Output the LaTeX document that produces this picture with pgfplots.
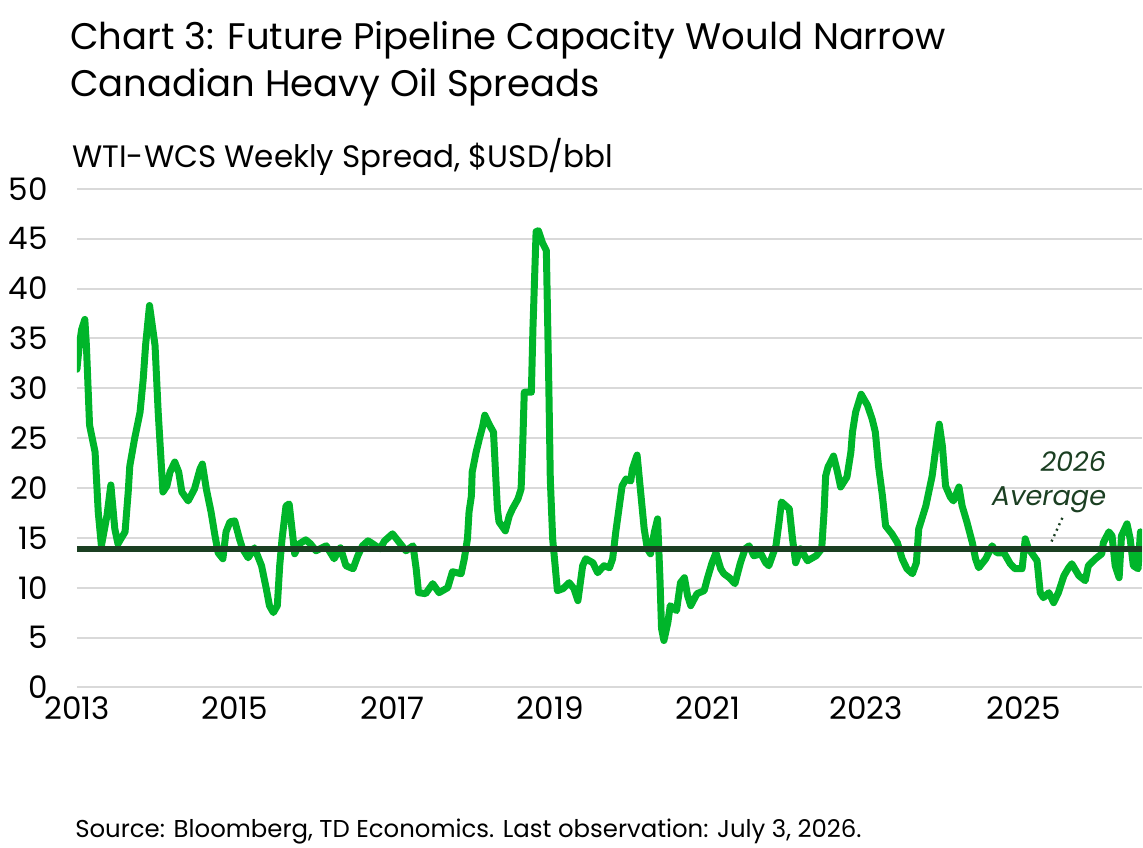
\documentclass[border=0pt]{standalone}
\usepackage{fontspec}
\setmainfont{Poppins}
\usepackage{pgfplots}
\pgfplotsset{compat=1.18}
\definecolor{tdgreen}{HTML}{00B52A}
\definecolor{avggreen}{HTML}{1B3F22}
\definecolor{gridgray}{HTML}{D9D9D9}
\begin{document}
\begin{tikzpicture}
\begin{axis}[
  name=ax, at={(0,0)}, anchor=south west,
  scale only axis, width=533bp, height=249.5bp,
  xmin=2013, xmax=2026.5, ymin=0, ymax=50,
  xtick={2013,2015,...,2025}, ytick={0,5,...,50},
  ymajorgrids, grid style={gridgray, line width=1bp},
  axis line style={draw=none}, major tick length=0pt,
  tick label style={font=\fontsize{15.5bp}{15.5bp}\selectfont, inner sep=0pt},
  /pgf/number format/assume math mode=true,
  xticklabel style={/pgf/number format/1000 sep=, anchor=north, yshift=-4.5bp},
  yticklabel style={anchor=east, xshift=-14.5bp},
]
\addplot[tdgreen, line width=3.5bp, line join=round, line cap=round] coordinates {
(2013.00,31.9)(2013.03,34.3)(2013.06,35.9)(2013.10,36.9)(2013.12,34.3)(2013.16,26.3)
(2013.23,23.6)(2013.27,17.6)(2013.31,14.2)(2013.38,17.2)(2013.43,20.3)(2013.48,15.9)
(2013.52,14.4)(2013.61,15.6)(2013.65,19.6)(2013.67,22.2)(2013.73,24.9)(2013.80,27.6)
(2013.84,30.9)(2013.87,34.3)(2013.92,38.3)(2013.99,34.3)(2014.03,27.6)(2014.09,19.6)
(2014.14,20.2)(2014.18,21.6)(2014.24,22.6)(2014.29,21.6)(2014.33,19.6)(2014.41,18.7)
(2014.49,19.9)(2014.56,21.9)(2014.59,22.4)(2014.64,19.9)(2014.70,17.6)(2014.75,15.2)
(2014.79,13.5)(2014.85,12.9)(2014.89,15.6)(2014.94,16.6)(2015.00,16.7)(2015.06,14.9)
(2015.10,13.9)(2015.17,13.0)(2015.25,14.0)(2015.34,12.2)(2015.40,9.9)(2015.44,8.2)
(2015.49,7.5)(2015.54,8.2)(2015.57,12.2)(2015.60,14.9)(2015.65,18.2)(2015.69,18.4)
(2015.74,14.9)(2015.76,13.4)(2015.82,14.4)(2015.90,14.8)(2015.96,14.4)(2016.03,13.7)
(2016.16,14.2)(2016.26,12.9)(2016.34,14.0)(2016.41,12.2)(2016.50,11.9)(2016.56,13.2)
(2016.62,14.2)(2016.69,14.7)(2016.75,14.4)(2016.84,13.9)(2016.90,14.7)(2017.00,15.4)
(2017.09,14.5)(2017.17,13.7)(2017.26,14.2)(2017.30,11.9)(2017.33,9.5)(2017.42,9.4)
(2017.51,10.4)(2017.59,9.5)(2017.70,10.0)(2017.76,11.6)(2017.87,11.4)(2017.91,12.9)
(2017.95,14.9)(2017.97,17.6)(2018.00,19.2)(2018.01,21.6)(2018.06,23.6)(2018.10,24.9)
(2018.14,26.1)(2018.17,27.3)(2018.23,26.3)(2018.28,25.6)(2018.31,20.9)(2018.33,17.9)
(2018.35,16.6)(2018.43,15.7)(2018.48,17.2)(2018.52,17.9)(2018.59,18.9)(2018.63,19.9)
(2018.65,24.2)(2018.67,29.6)(2018.76,29.6)(2018.78,36.0)(2018.82,45.7)(2018.85,45.8)
(2018.90,44.6)(2018.95,43.8)(2018.98,30.9)(2019.00,20.9)(2019.03,14.9)(2019.09,9.7)
(2019.16,9.9)(2019.24,10.5)(2019.30,9.9)(2019.35,8.7)(2019.41,12.2)(2019.45,12.9)
(2019.54,12.5)(2019.60,11.5)(2019.68,12.2)(2019.75,12.0)(2019.79,12.9)(2019.83,15.6)
(2019.87,17.9)(2019.91,20.2)(2019.96,20.9)(2020.02,20.7)(2020.04,21.9)(2020.10,23.3)
(2020.15,19.2)(2020.19,15.9)(2020.23,13.9)(2020.27,13.4)(2020.32,15.6)(2020.36,16.9)
(2020.39,10.9)(2020.41,5.9)(2020.44,4.7)(2020.49,6.5)(2020.52,8.2)(2020.60,7.7)
(2020.65,10.5)(2020.70,11.0)(2020.74,9.2)(2020.78,8.2)(2020.86,9.4)(2020.95,9.7)
(2020.99,10.9)(2021.05,12.5)(2021.10,13.5)(2021.16,11.9)(2021.20,11.4)(2021.27,11.0)
(2021.34,10.4)(2021.41,12.5)(2021.47,13.9)(2021.52,14.2)(2021.58,13.2)(2021.67,13.4)
(2021.73,12.5)(2021.77,12.2)(2021.86,14.2)(2021.90,16.6)(2021.93,18.6)(2022.03,17.9)
(2022.07,14.9)(2022.11,12.5)(2022.17,13.9)(2022.26,12.7)(2022.37,13.2)(2022.44,13.9)
(2022.47,17.6)(2022.49,21.2)(2022.52,22.1)(2022.59,23.2)(2022.64,21.6)(2022.68,20.1)
(2022.76,21.1)(2022.81,23.6)(2022.83,25.6)(2022.87,27.6)(2022.94,29.4)(2023.02,28.3)
(2023.08,26.9)(2023.12,25.6)(2023.16,22.2)(2023.21,19.2)(2023.25,16.2)(2023.33,15.4)
(2023.40,14.5)(2023.46,12.9)(2023.52,11.9)(2023.59,11.4)(2023.64,12.5)(2023.67,15.9)
(2023.76,18.2)(2023.84,21.2)(2023.89,24.2)(2023.93,26.4)(2023.97,24.2)(2024.01,20.2)
(2024.07,19.1)(2024.11,18.7)(2024.18,20.1)(2024.22,18.2)(2024.28,16.6)(2024.35,14.5)
(2024.39,12.9)(2024.43,12.0)(2024.52,12.9)(2024.60,14.2)(2024.66,13.5)(2024.75,13.5)
(2024.83,12.4)(2024.89,11.9)(2024.98,11.9)(2025.02,14.9)(2025.06,13.9)(2025.10,13.5)
(2025.17,12.7)(2025.21,9.5)(2025.25,9.0)(2025.32,9.5)(2025.38,8.5)(2025.44,9.5)
(2025.51,11.2)(2025.57,12.0)(2025.61,12.4)(2025.70,11.2)(2025.78,10.7)(2025.82,12.2)
(2025.91,12.9)(2025.99,13.4)(2026.01,14.5)(2026.08,15.6)(2026.12,15.2)(2026.16,12.2)
(2026.21,11.0)(2026.24,15.2)(2026.31,16.4)(2026.35,14.9)(2026.39,12.2)(2026.45,11.9)
(2026.48,15.6)
};
\addplot[avggreen, line width=3bp] coordinates {(2013,13.9)(2026.5,13.9)};
\draw[avggreen, line width=1.2bp, dash pattern=on 1bp off 2bp] (axis cs:2025.49,17.0) -- (axis cs:2025.34,14.4);
\node[anchor=east, inner sep=0pt, text=avggreen, font=\fontsize{13.6bp}{13.6bp}\selectfont\itshape] at (axis cs:2026.05,22.7) {2026};
\node[anchor=east, inner sep=0pt, text=avggreen, font=\fontsize{13.6bp}{13.6bp}\selectfont\itshape] at (axis cs:2026.05,18.8) {Average};
\end{axis}
\node[anchor=base west, inner sep=0pt, font=\fontsize{18.5bp}{18.5bp}\selectfont] at (-3.5bp,319bp) {Chart 3: Future Pipeline Capacity Would Narrow};
\node[anchor=base west, inner sep=0pt, font=\fontsize{18.5bp}{18.5bp}\selectfont] at (-3.5bp,295.5bp) {Canadian Heavy Oil Spreads};
\node[anchor=base west, inner sep=0pt, font=\fontsize{15.5bp}{15.5bp}\selectfont] at (-2.5bp,260bp) {WTI-WCS Weekly Spread, \$USD/bbl};
\node[anchor=base west, inner sep=0pt, font=\fontsize{12.2bp}{12.2bp}\selectfont] at (-1bp,-75bp) {Source: Bloomberg, TD Economics. Last observation: July 3, 2026.};
\path[use as bounding box] (-38.5bp,-80bp) rectangle (533bp,344bp);
\end{tikzpicture}
\end{document}
